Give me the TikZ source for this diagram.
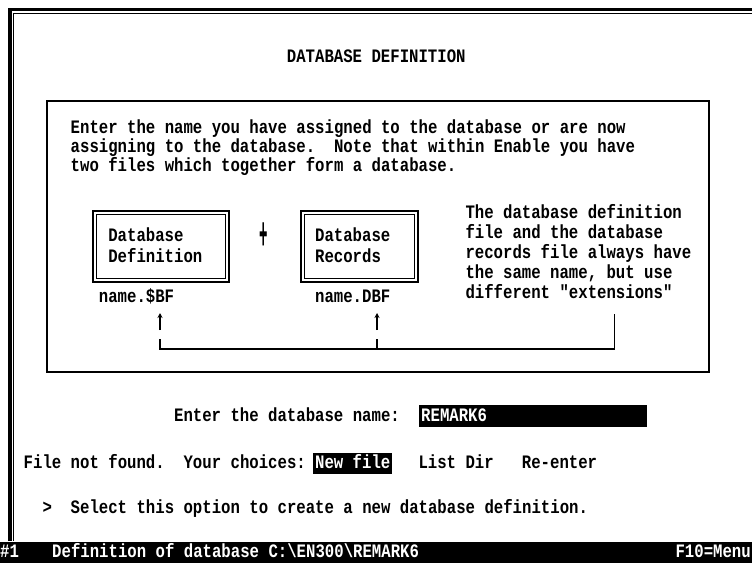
\documentclass[tikz,border=0pt]{standalone}
\usepackage{fontspec}
\setmonofont[FakeStretch=0.825]{Liberation Mono}
\usetikzlibrary{arrows.meta}
\begin{document}
\begin{tikzpicture}[x=1pt,y=-1pt,
  txt/.style={anchor=base west, inner sep=0pt, font=\fontsize{19}{20}\selectfont\ttfamily\bfseries},
  inv/.style={txt, text=white},
  bar/.style={fill=black, draw=none},
  frame/.style={draw=black, line width=2pt},
  dbl/.style={draw=black, line width=2.2pt},
  dblin/.style={draw=black, line width=1pt},
  conn/.style={draw=black, line width=1.6pt},
  uparrow/.style={draw=black, line width=1.6pt, -{Stealth[length=5pt,width=5pt]}}]
\useasboundingbox (0,0) rectangle (752,563);
% screen frame
\draw[line width=3.5pt] (10,541) -- (10,9.5) -- (752,9.5);
\draw[line width=1pt] (13.5,541) -- (13.5,13) -- (752,13);
% title
\node[txt] (title) at (286.7,62) {DATABASE DEFINITION};
% inner box
\draw[frame] (47,101) rectangle (709,372);
\node[txt] (l1) at (70.5,133) {Enter the name you have assigned to the database or are now};
\node[txt] (l2) at (70.5,152) {assigning to the database.~~Note that within Enable you have};
\node[txt] (l3) at (70.5,171) {two files which together form a database.};
% file boxes
\draw[dbl] (93,211) rectangle (229,282);
\draw[dblin] (96.5,214.5) rectangle (225.5,278.5);
\draw[dbl] (301,211) rectangle (418,282);
\draw[dblin] (304.5,214.5) rectangle (414.5,278.5);
\node[txt] (d1) at (108.1,241) {Database};
\node[txt] (d2) at (108.1,262) {Definition};
\node[txt] (r1) at (314.9,241) {Database};
\node[txt] (r2) at (314.9,262) {Records};
\node[inner sep=0pt, font=\fontsize{19}{20}\selectfont\ttfamily\bfseries] (plus) at (263.5,236) {\scalebox{0.9}[2.4]{+}};
% explanation
\node[txt] (e1) at (465.3,218) {The database definition};
\node[txt] (e2) at (465.3,238) {file and the database};
\node[txt] (e3) at (465.3,258) {records file always have};
\node[txt] (e4) at (465.3,278) {the same name, but use};
\node[txt] (e5) at (465.3,298) {different "extensions"};
% file names
\node[txt] (n1) at (98.7,302) {name.\$BF};
\node[txt] (n2) at (314.9,302) {name.DBF};
% connectors
\coordinate (a1t) at (160,313);
\coordinate (a1b) at (160,330);
\coordinate (a2t) at (377,313);
\coordinate (a2b) at (377,330);
\coordinate (c1) at (160,339);
\coordinate (c2) at (377,339);
\coordinate (cr) at (614.5,349);
\coordinate (et) at (614.5,314);
\draw[uparrow] (a1b) -- (a1t);
\draw[uparrow] (a2b) -- (a2t);
\draw[conn] (c1) |- (cr) -- (et);
\draw[conn] (c2) -- (c2 |- cr);
% prompt
\node[txt] (p1) at (173.9,421) {Enter the database name:};
\fill[bar] (419,405) rectangle (647,427);
\node[inv] (p2) at (421,421) {REMARK6};
% choices
\node[txt] (f1) at (23.5,468) {File not found.~~Your choices:};
\fill[bar] (313,453) rectangle (392,474);
\node[inv] (f2) at (314.9,468) {New file};
\node[txt] (f3) at (418.3,468) {List Dir};
\node[txt] (f4) at (521.7,468) {Re-enter};
% hint
\node[txt] (h0) at (42.3,513) {>};
\node[txt] (h1) at (70.5,513) {Select this option to create a new database definition.};
% status bar
\fill[bar] (0,542) rectangle (752,563);
\node[inv] (s0) at (0,557) {\#1};
\node[inv] (s1) at (52,557) {Definition of database C:\textbackslash EN300\textbackslash REMARK6};
\node[inv, anchor=base east] (s2) at (751,557) {F10=Menu};
\end{tikzpicture}
\end{document}
